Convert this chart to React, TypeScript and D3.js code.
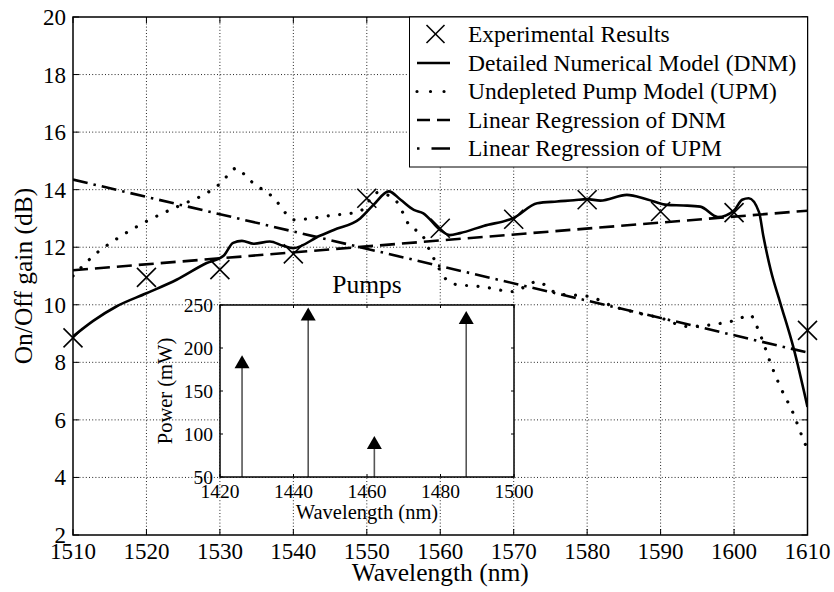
import React from "react";
import * as d3 from "d3";

// ---------- data ----------
const expWavelength = [1510, 1520, 1530, 1540, 1550, 1560, 1570, 1580, 1590, 1600, 1610];
const expGain = [8.85, 10.95, 11.22, 11.77, 13.7, 12.66, 12.97, 13.65, 13.24, 13.2, 9.11];

const dnmWavelength = [
  1510, 1512.8, 1515.9, 1520, 1524.1, 1528.2, 1530.5, 1531.8, 1533, 1534.6, 1536.8, 1538.6, 1540,
  1543.6, 1545.5, 1549.1, 1550.9, 1553, 1554.6, 1556.4, 1557.7, 1560, 1561.3, 1562.7, 1565.9, 1570,
  1573.2, 1575.9, 1578.2, 1580, 1581.8, 1585.4, 1588.2, 1590.9, 1593.1, 1595.4, 1597.8, 1600, 1601.1,
  1602, 1603.4, 1604, 1605, 1606.3, 1608.1, 1610,
];
const dnmGain = [
  8.9, 9.45, 9.94, 10.4, 10.87, 11.45, 11.7, 12.15, 12.22, 12.12, 12.2, 12.05, 11.97,
  12.4, 12.6, 13.0, 13.47, 13.94, 13.65, 13.3, 13.18, 12.6, 12.42, 12.49, 12.74, 13.02,
  13.53, 13.59, 13.63, 13.67, 13.62, 13.82, 13.66, 13.47, 13.45, 13.41, 13.05, 13.28, 13.65,
  13.7, 13.22, 12.37, 11.2, 10.06, 8.5, 6.45,
];

const upmWavelength = [
  1510, 1513, 1516, 1520, 1525, 1528, 1530, 1532.3, 1533.7, 1535, 1536.5, 1537.8, 1538.9, 1540.2,
  1542, 1545, 1549, 1551.5, 1554, 1555.9, 1557.5, 1558.2, 1559.1, 1560.9, 1562.5, 1564.3, 1566.1,
  1569.8, 1573.2, 1576.1, 1580.2, 1583.6, 1587, 1590, 1593.6, 1597, 1600.4, 1602.2, 1603.1, 1603.8,
  1605, 1606.4, 1608, 1609.3, 1610,
];
const upmGain = [
  11.0, 11.75, 12.3, 12.9, 13.5, 13.85, 14.2, 14.75, 14.42, 14.13, 13.9, 13.57, 13.2, 12.95,
  12.99, 13.1, 13.24, 13.9, 13.6, 12.72, 12.45, 12.08, 11.62, 10.86, 10.69, 10.66, 10.61,
  10.46, 10.8, 10.38, 10.29, 9.94, 9.71, 9.54, 9.25, 9.31, 9.48, 9.65, 9.25, 8.81,
  7.95, 7.09, 6.26, 5.4, 4.97,
];

const regDnmEnds = [11.2, 13.27];
const regUpmEnds = [14.35, 8.34];

const pumpWavelength = [1426, 1444, 1462, 1487];
const pumpPower = [184, 239.5, 90, 235.5];

const xTicks = [1510, 1520, 1530, 1540, 1550, 1560, 1570, 1580, 1590, 1600, 1610];
const yTicks = [2, 4, 6, 8, 10, 12, 14, 16, 18, 20];
const insetXTicks = [1420, 1440, 1460, 1480, 1500];
const insetYTicks = [50, 100, 150, 200, 250];

const legendLabels = [
  "Experimental Results",
  "Detailed Numerical Model (DNM)",
  "Undepleted Pump Model (UPM)",
  "Linear Regression of DNM",
  "Linear Regression of UPM",
];

// ---------- layout ----------
const W = 834;
const H = 592;
const M = { left: 73, right: 807.5, top: 17, bottom: 535 };
const IN = { left: 220, right: 514, top: 305, bottom: 477 };
const FONT = "Liberation Serif, Times New Roman, serif";

const x = d3.scaleLinear().domain([1510, 1610]).range([M.left, M.right]);
const y = d3.scaleLinear().domain([2, 20]).range([M.bottom, M.top]);
const ix = d3.scaleLinear().domain([1420, 1500]).range([IN.left, IN.right]);
const iy = d3.scaleLinear().domain([50, 250]).range([IN.bottom, IN.top]);

const smoothLine = d3
  .line<[number, number]>()
  .x((d) => x(d[0]))
  .y((d) => y(d[1]))
  .curve(d3.curveMonotoneX);

const zip = (a: number[], b: number[]) => a.map((v, i) => [v, b[i]] as [number, number]);

type Sty = { dash?: string; cap: "butt" | "round"; w: number; legendDash?: string };
const STYLES: Record<string, Sty> = {
  solid: { cap: "butt", w: 2.6 },
  dotted: { dash: "0.01 11.5", cap: "round", w: 3.2, legendDash: "0.01 13.5" },
  dashed: { dash: "15 7", cap: "butt", w: 2.6, legendDash: "13 7" },
  dashdot: { dash: "15 6 2.5 6", cap: "butt", w: 2.6, legendDash: "2.5 12 18.5 20" },
};

function XMark({ cx, cy, r = 9.5 }: { cx: number; cy: number; r?: number }) {
  return (
    <g stroke="#000" strokeWidth={1.6}>
      <line x1={cx - r} y1={cy - r} x2={cx + r} y2={cy + r} />
      <line x1={cx - r} y1={cy + r} x2={cx + r} y2={cy - r} />
    </g>
  );
}

export default function App() {
  const dnm = zip(dnmWavelength, dnmGain);
  const upm = zip(upmWavelength, upmGain);
  const regDnm: [number, number][] = [
    [1510, regDnmEnds[0]],
    [1610, regDnmEnds[1]],
  ];
  const regUpm: [number, number][] = [
    [1510, regUpmEnds[0]],
    [1610, regUpmEnds[1]],
  ];

  const series = [
    { d: dnm, s: STYLES.solid },
    { d: upm, s: STYLES.dotted },
    { d: regDnm, s: STYLES.dashed },
    { d: regUpm, s: STYLES.dashdot },
  ];

  const legendRows = [34, 63, 91.5, 120, 148.5];
  const legendStyles = [null, STYLES.solid, STYLES.dotted, STYLES.dashed, STYLES.dashdot];

  const tri = (cx: number, cy: number) => {
    const hw = 7.5;
    const hh = 6.5;
    return `M${cx},${cy - hh} L${cx + hw},${cy + hh} L${cx - hw},${cy + hh} Z`;
  };

  return (
    <svg
      width={W}
      height={H}
      style={{ display: "block", position: "absolute", left: 0, top: 0, background: "#fff" }}
      fontFamily={FONT}
    >
      <rect x={0} y={0} width={W} height={H} fill="#fff" />
      <defs>
        <clipPath id="plotClip">
          <rect x={M.left} y={M.top} width={M.right - M.left} height={M.bottom - M.top} />
        </clipPath>
      </defs>

      {/* grid */}
      <g stroke="#000" strokeWidth={1} strokeDasharray="1 2.2" opacity={0.85}>
        {xTicks.slice(1, -1).map((t) => (
          <line key={"gx" + t} x1={x(t)} x2={x(t)} y1={M.top} y2={M.bottom} />
        ))}
        {yTicks.slice(1, -1).map((t) => (
          <line key={"gy" + t} x1={M.left} x2={M.right} y1={y(t)} y2={y(t)} />
        ))}
      </g>

      {/* ticks */}
      <g stroke="#000" strokeWidth={1}>
        {xTicks.map((t) => (
          <g key={"tx" + t}>
            <line x1={x(t)} x2={x(t)} y1={M.bottom} y2={M.bottom - 6} />
            <line x1={x(t)} x2={x(t)} y1={M.top} y2={M.top + 6} />
          </g>
        ))}
        {yTicks.map((t) => (
          <g key={"ty" + t}>
            <line x1={M.left} x2={M.left + 6} y1={y(t)} y2={y(t)} />
            <line x1={M.right} x2={M.right - 6} y1={y(t)} y2={y(t)} />
          </g>
        ))}
      </g>

      {/* series */}
      <g clipPath="url(#plotClip)" fill="none" stroke="#000">
        {series.map((se, i) => (
          <path
            key={"s" + i}
            d={smoothLine(se.d) || ""}
            strokeWidth={se.s.w}
            strokeDasharray={se.s.dash}
            strokeLinecap={se.s.cap}
            strokeLinejoin="round"
          />
        ))}
      </g>
      {expWavelength.map((w, i) => (
        <XMark key={"x" + i} cx={x(w)} cy={y(expGain[i])} />
      ))}

      {/* axes box */}
      <rect
        x={M.left}
        y={M.top}
        width={M.right - M.left}
        height={M.bottom - M.top}
        fill="none"
        stroke="#000"
        strokeWidth={1.5}
      />

      {/* tick labels */}
      <g fontSize={23} fill="#000">
        {xTicks.map((t) => (
          <text key={"lx" + t} x={x(t)} y={559} textAnchor="middle">
            {t}
          </text>
        ))}
        {yTicks.map((t) => (
          <text key={"ly" + t} x={66} y={y(t)} dy="0.35em" textAnchor="end">
            {t}
          </text>
        ))}
      </g>
      <text x={(M.left + M.right) / 2} y={581} textAnchor="middle" fontSize={25.5}>
        Wavelength (nm)
      </text>
      <text
        transform={`translate(32,${(M.top + M.bottom) / 2}) rotate(-90)`}
        textAnchor="middle"
        fontSize={25.5}
      >
        On/Off gain (dB)
      </text>

      {/* legend */}
      <rect x={409.5} y={M.top} width={M.right - 409.5} height={150} fill="#fff" stroke="#000" strokeWidth={1} />
      {legendLabels.map((lab, i) => {
        const ry = legendRows[i];
        const st = legendStyles[i];
        return (
          <g key={"lg" + i}>
            {st ? (
              <line
                x1={417}
                x2={450}
                y1={ry}
                y2={ry}
                stroke="#000"
                strokeWidth={st.w}
                strokeDasharray={st.legendDash}
                strokeLinecap={st.cap}
              />
            ) : (
              <XMark cx={435.5} cy={ry} r={9} />
            )}
            <text x={468} y={ry + 7.5} fontSize={23.5}>
              {lab}
            </text>
          </g>
        );
      })}

      {/* inset */}
      <rect x={IN.left} y={IN.top} width={IN.right - IN.left} height={IN.bottom - IN.top} fill="#fff" stroke="none" />
      <g stroke="#000" strokeWidth={1}>
        {insetXTicks.map((t) => (
          <g key={"itx" + t}>
            <line x1={ix(t)} x2={ix(t)} y1={IN.bottom} y2={IN.bottom - 3} />
            <line x1={ix(t)} x2={ix(t)} y1={IN.top} y2={IN.top + 3} />
          </g>
        ))}
        {insetYTicks.map((t) => (
          <g key={"ity" + t}>
            <line x1={IN.left} x2={IN.left + 3} y1={iy(t)} y2={iy(t)} />
            <line x1={IN.right} x2={IN.right - 3} y1={iy(t)} y2={iy(t)} />
          </g>
        ))}
      </g>
      {pumpWavelength.map((w, i) => (
        <g key={"p" + i}>
          <line x1={ix(w)} x2={ix(w)} y1={iy(50)} y2={iy(pumpPower[i])} stroke="#555" strokeWidth={1.6} />
          <path d={tri(ix(w), iy(pumpPower[i]))} fill="#000" />
        </g>
      ))}
      <rect
        x={IN.left}
        y={IN.top}
        width={IN.right - IN.left}
        height={IN.bottom - IN.top}
        fill="none"
        stroke="#000"
        strokeWidth={1.5}
      />
      <g fontSize={19.5} fill="#000">
        {insetXTicks.map((t) => (
          <text key={"ilx" + t} x={ix(t)} y={498} textAnchor="middle">
            {t}
          </text>
        ))}
        {insetYTicks.map((t) => (
          <text key={"ily" + t} x={213} y={iy(t)} dy="0.35em" textAnchor="end">
            {t}
          </text>
        ))}
      </g>
      <text x={(IN.left + IN.right) / 2} y={519} textAnchor="middle" fontSize={20.5}>
        Wavelength (nm)
      </text>
      <text
        transform={`translate(172,${(IN.top + IN.bottom) / 2}) rotate(-90)`}
        textAnchor="middle"
        fontSize={20.5}
      >
        Power (mW)
      </text>
      <text x={(IN.left + IN.right) / 2} y={293} textAnchor="middle" fontSize={25.5}>
        Pumps
      </text>
    </svg>
  );
}
